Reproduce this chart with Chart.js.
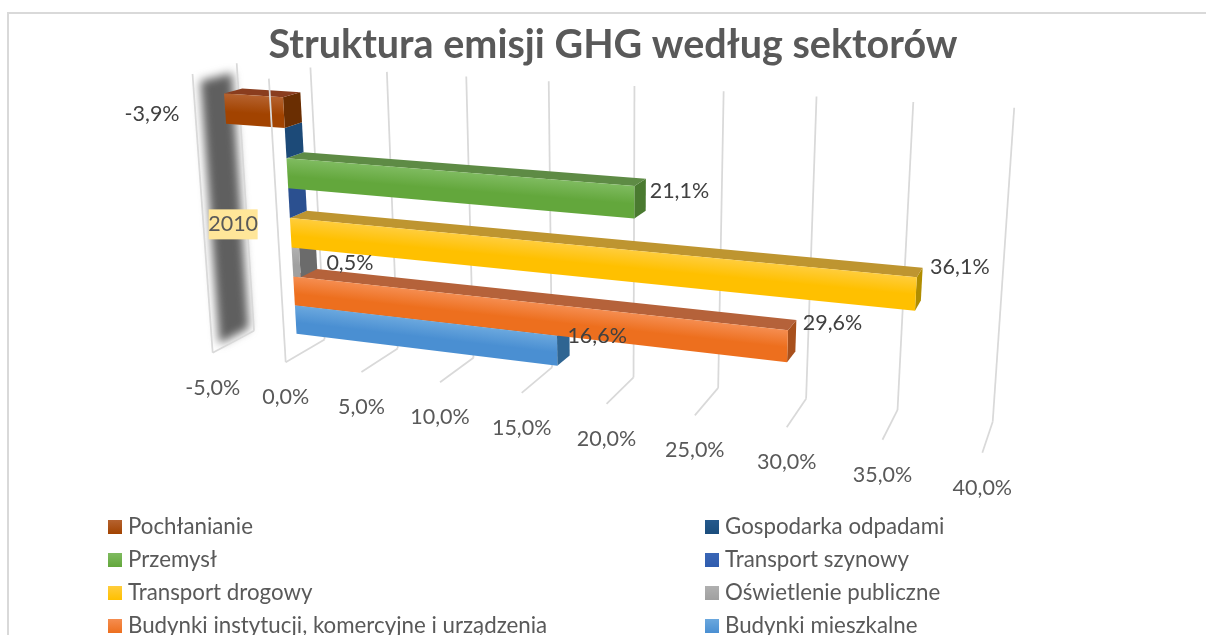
<!DOCTYPE html>
<html>
<head>
<meta charset="utf-8">
<script src="https://cdn.jsdelivr.net/npm/chart.js@4"></script>
<style>
  html, body { margin: 0; padding: 0; background: #fff; overflow: hidden; }
  #wrap { position: relative; width: 1206px; height: 635px; overflow: hidden; }
  #myChart { position: absolute; left: 0; top: 0; }
  .legendItem { position: absolute; white-space: nowrap; font: 22.3px Lato, sans-serif; color: #595959; line-height: 24px; }
  .colorBox { position: absolute; left: -20px; top: 6px; width: 14px; height: 14px; }
</style>
</head>
<body>
<div id="wrap">
  <canvas id="myChart" width="1206" height="635"></canvas>
</div>
<script>
var chartTitle = 'Struktura emisji GHG według sektorów';
var categories = ['2010'];
var seriesNames = ['Pochłanianie', 'Gospodarka odpadami', 'Przemysł', 'Transport szynowy', 'Transport drogowy', 'Oświetlenie publiczne', 'Budynki instytucji, komercyjne i urządzenia', 'Budynki mieszkalne'];
var seriesValues = [-3.9, 0.0, 21.1, 0.0, 36.1, 0.5, 29.6, 16.6];
var valueLabels = ['-3,9%', '', '21,1%', '', '36,1%', '0,5%', '29,6%', '16,6%'];
var tickValues = [-5, 0, 5, 10, 15, 20, 25, 30, 35, 40];
var tickLabels = ['-5,0%', '0,0%', '5,0%', '10,0%', '15,0%', '20,0%', '25,0%', '30,0%', '35,0%', '40,0%'];

// face colours
var frontTop = ['#b5622f', '#25598c', '#7fbb60', '#3a66b5', '#ffcd3c', '#b0b0b0', '#f58d50', '#6ba8de'];
var frontBottom = ['#a24300', '#1a4d7c', '#63a73c', '#2f5cae', '#ffc000', '#a0a0a0', '#ed6f1e', '#4a8fd2'];
var topFaces = ['#8a3d1e', '#1f4e79', '#5e8b45', '#2e5597', '#be9530', '#7a7a7a', '#b5623a', '#3c78b0'];
var endFaces = ['#6a2e02', '#1c4a78', '#4a7a30', '#2b5090', '#b08d00', '#6b6b6b', '#a8501c', '#2f6592'];
var labelOffsets = [[-73, 5], [0, 0], [45, -11], [0, 0], [44, -27], [50, 0], [45, -23], [40, -15]];

// perspective box, s = along value axis, d = back to front, h = floor to top
var cam = { w0: 1.183, ws: 1, wd: 1.133, wh: 1.129,
  o: [254, 330.7], a: [992.7, 421.7], b: [212.7, 352.7], c: [236.7, 63.3] };
var barFront = 0.70, barBack = 0.28;

function proj(s, d, h) {
  var w = cam.w0 + s * (cam.ws - cam.w0) + d * (cam.wd - cam.w0) + h * (cam.wh - cam.w0);
  var p = [0, 1].map(function (i) {
    var base = cam.w0 * cam.o[i];
    return (base + s * (cam.ws * cam.a[i] - base) + d * (cam.wd * cam.b[i] - base) + h * (cam.wh * cam.c[i] - base)) / w;
  });
  return p;
}

function poly(ctx, pts, fill) {
  ctx.beginPath();
  pts.forEach(function (p, i) { if (i) ctx.lineTo(p[0], p[1]); else ctx.moveTo(p[0], p[1]); });
  ctx.closePath();
  ctx.fillStyle = fill;
  ctx.fill();
}

function line(ctx, p, q) {
  ctx.beginPath();
  ctx.moveTo(p[0], p[1]);
  ctx.lineTo(q[0], q[1]);
  ctx.stroke();
}

var box3d = {
  id: 'box3d',
  beforeDraw: function (chart) {
    var ctx = chart.ctx;
    ctx.save();
    ctx.strokeStyle = '#d9d9d9';
    ctx.lineWidth = 2;
    ctx.strokeRect(8, 13, 1400, 800);
    ctx.restore();
  },
  beforeDatasetsDraw: function (chart) {
    var ctx = chart.ctx;
    var xs = chart.scales.x, ys = chart.scales.y;
    var sOf = function (px) { return (px - xs.left) / (xs.right - xs.left); };
    var hOf = function (py) { return (ys.bottom - py) / (ys.bottom - ys.top) + 0.002; };

    ctx.save();
    // dark band on the -5% wall
    ctx.filter = 'blur(5px)';
    poly(ctx, [proj(0, 0.12, 0.02), proj(0, 0.84, 0.02), proj(0, 0.84, 0.97), proj(0, 0.12, 0.97)], '#5f5f5f');
    ctx.filter = 'none';

    // gridlines
    ctx.strokeStyle = '#d9d9d9';
    ctx.lineWidth = 1.75;
    tickValues.forEach(function (v, i) {
      var s = sOf(xs.getPixelForValue(v));
      line(ctx, proj(s, 1, 0), proj(s, 0, 0));
      line(ctx, proj(s, 0, 0), proj(s, 0, 1));
      if (i === 0) line(ctx, proj(s, 1, 0), proj(s, 1, 1));
    });

    // bars, bottom one first so upper bars cover its top
    for (var i = seriesValues.length - 1; i >= 0; i--) {
      var el = chart.getDatasetMeta(i).data[0];
      var s1 = sOf(Math.min(el.x, el.base)), s2 = sOf(Math.max(el.x, el.base));
      var h1 = hOf(el.y + el.height / 2), h2 = hOf(el.y - el.height / 2);
      // end face
      poly(ctx, [proj(s2, barFront, h1), proj(s2, barBack, h1), proj(s2, barBack, h2), proj(s2, barFront, h2)], endFaces[i]);
      // top face
      poly(ctx, [proj(s1, barFront, h2), proj(s2, barFront, h2), proj(s2, barBack, h2), proj(s1, barBack, h2)], topFaces[i]);
      // front face, gradient runs across the slanted bar
      var a = proj(s1, barFront, h2), b = proj(s1, barFront, h1), c = proj(s2, barFront, h2);
      var grad = frontBottom[i];
      var ex = c[0] - a[0], ey = c[1] - a[1], len = Math.sqrt(ex * ex + ey * ey);
      if (len > 0) {
        var nx = -ey / len, ny = ex / len;
        var dist = (b[0] - a[0]) * nx + (b[1] - a[1]) * ny;
        grad = ctx.createLinearGradient(a[0], a[1], a[0] + nx * dist, a[1] + ny * dist);
        grad.addColorStop(0, frontTop[i]);
        grad.addColorStop(0.6, frontBottom[i]);
        grad.addColorStop(1, frontBottom[i]);
      }
      poly(ctx, [a, c, proj(s2, barFront, h1), b], grad);
    }

    // front edge of the 0% wall runs over the brown bar
    var sz = sOf(xs.getPixelForValue(0));
    ctx.strokeStyle = '#d9d9d9';
    line(ctx, proj(sz, 1, 0), proj(sz, 1, 1));

    // category label
    var catP = proj(0, 0.33, 0.43);
    ctx.fillStyle = '#ffe699';
    ctx.fillRect(catP[0] - 24.5, catP[1] - 15, 49, 30);
    ctx.font = '21.5px Lato, sans-serif';
    ctx.fillStyle = '#595959';
    ctx.textAlign = 'center';
    ctx.textBaseline = 'middle';
    ctx.fillText(categories[0], catP[0], catP[1]);

    // tick labels
    tickValues.forEach(function (v, i) {
      var s = sOf(xs.getPixelForValue(v));
      var p = proj(s, 1, 0);
      ctx.fillText(tickLabels[i], p[0], p[1] + 35);
    });

    // value labels
    ctx.fillStyle = '#404040';
    valueLabels.forEach(function (txt, i) {
      if (!txt) return;
      var el = chart.getDatasetMeta(i).data[0];
      var p = proj(sOf(el.x), barFront, hOf(el.y));
      ctx.fillText(txt, p[0] + labelOffsets[i][0], p[1] + labelOffsets[i][1]);
    });
    ctx.restore();
    return false;
  }
};

var myChart = new Chart(document.getElementById('myChart').getContext('2d'), {
  type: 'bar',
  data: {
    labels: categories,
    datasets: seriesNames.map(function (name, i) {
      return { label: name, data: [seriesValues[i]], backgroundColor: frontBottom[i] };
    })
  },
  options: {
    indexAxis: 'y',
    responsive: false,
    animation: false,
    layout: { padding: { left: 20 } },
    scales: {
      x: { display: false, min: -5, max: 40, ticks: { stepSize: 5 } },
      y: { display: false }
    },
    datasets: { bar: { categoryPercentage: 0.845, barPercentage: 1 } },
    plugins: {
      legend: { display: false },
      tooltip: { enabled: false },
      title: {
        display: true,
        text: chartTitle,
        color: '#595959',
        font: { family: 'Lato', size: 39.5, weight: 'bold' },
        padding: { top: 22, bottom: 10 }
      }
    }
  },
  plugins: [box3d]
});

// legend in two columns
var wrap = document.getElementById('wrap');
seriesNames.forEach(function (name, i) {
  var item = document.createElement('div');
  item.className = 'legendItem';
  item.style.left = (i % 2 ? 725 : 128) + 'px';
  item.style.top = (514 + 33 * Math.floor(i / 2)) + 'px';
  var colorBox = document.createElement('div');
  colorBox.className = 'colorBox';
  colorBox.style.background = 'linear-gradient(' + frontTop[i] + ',' + frontBottom[i] + ')';
  item.appendChild(colorBox);
  item.appendChild(document.createTextNode(name));
  wrap.appendChild(item);
});
</script>
</body>
</html>
